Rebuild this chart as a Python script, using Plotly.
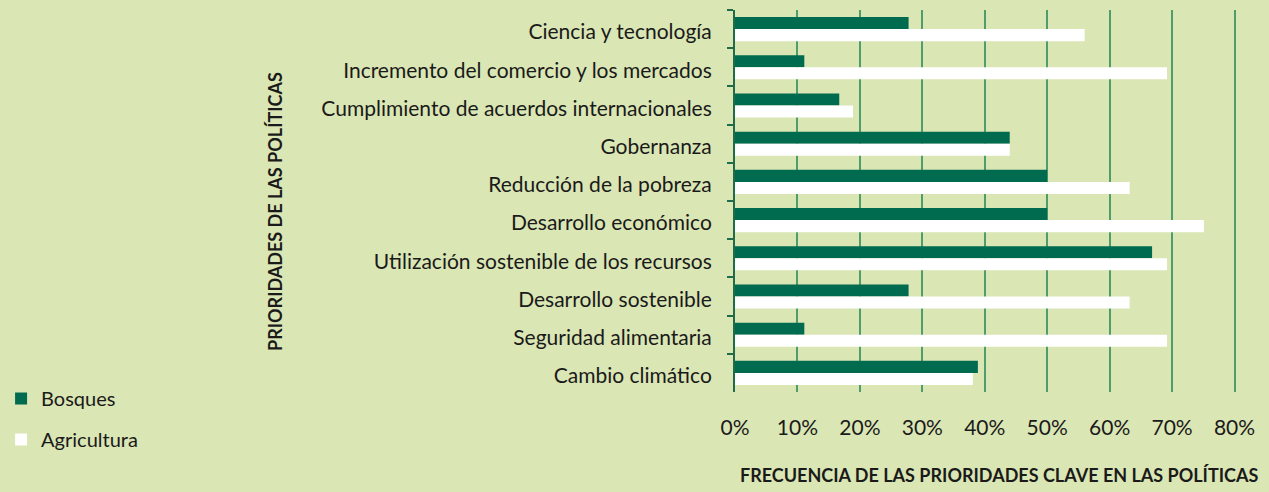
import plotly.graph_objects as go

categories = [
    "Ciencia y tecnología",
    "Incremento del comercio y los mercados",
    "Cumplimiento de acuerdos internacionales",
    "Gobernanza",
    "Reducción de la pobreza",
    "Desarrollo económico",
    "Utilización sostenible de los recursos",
    "Desarrollo sostenible",
    "Seguridad alimentaria",
    "Cambio climático",
]
bosques = [27.8, 11.1, 16.7, 44.0, 50.0, 50.0, 66.8, 27.8, 11.1, 38.9]
agricultura = [56.0, 69.2, 18.9, 44.0, 63.2, 75.1, 69.2, 63.2, 69.2, 38.1]
x_ticks = [0, 10, 20, 30, 40, 50, 60, 70, 80]
x_tick_labels = ["0%", "10%", "20%", "30%", "40%", "50%", "60%", "70%", "80%"]

BG = "#DAE6B4"
DARK = "#006B4F"
GRID = "#4F9C6C"
FONT = "Lato, 'Open Sans', sans-serif"

fig = go.Figure()
fig.add_trace(go.Bar(y=categories, x=bosques, orientation="h", name="Bosques",
                     marker=dict(color=DARK, line=dict(width=0)), legendgroup="a"))
fig.add_trace(go.Bar(y=categories, x=agricultura, orientation="h", name="Agricultura",
                     marker=dict(color="#FFFFFF", line=dict(width=0)), legendgroup="b"))

fig.update_layout(
    width=1269, height=492,
    paper_bgcolor=BG, plot_bgcolor=BG,
    barmode="group", bargap=0.37, bargroupgap=0,
    margin=dict(l=735, r=32, t=10, b=100, autoexpand=False),
    font=dict(family=FONT, size=21, color="#1A1A1A"),
    legend=dict(x=-1.462, y=0.034, xanchor="left", yanchor="top",
                bgcolor="rgba(0,0,0,0)", tracegroupgap=12,
                font=dict(size=20), itemwidth=30),
    xaxis=dict(range=[0, 80.4], tickvals=x_ticks, ticktext=x_tick_labels,
               showgrid=True, gridcolor=GRID, gridwidth=2, zeroline=False,
               ticks="", ticklabelstandoff=21, showline=False,
               tickfont=dict(size=21)),
    yaxis=dict(autorange="reversed", showline=True, linecolor="#1F6B4A", linewidth=2,
               ticks="outside", tickson="boundaries", ticklen=6, tickcolor="#1F6B4A",
               tickwidth=2, ticklabelstandoff=17, ticklabelshift=-3, showgrid=False),
    annotations=[
        dict(text="<b>PRIORIDADES DE LAS POLÍTICAS</b>", xref="paper", yref="paper",
             x=(275 - 735) / 502, y=(392 - 212) / 382, textangle=-90, showarrow=False,
             font=dict(size=18, family=FONT), xanchor="center", yanchor="middle"),
        dict(text="<b>FRECUENCIA DE LAS PRIORIDADES CLAVE EN LAS POLÍTICAS</b>",
             xref="paper", yref="paper", x=(1260 - 735) / 502, y=-(475 - 392) / 382,
             showarrow=False, font=dict(size=18, family=FONT),
             xanchor="right", yanchor="middle"),
    ],
)

fig.write_html("out.html", config={"displayModeBar": False},
               post_script="document.body.style.margin='0';")
